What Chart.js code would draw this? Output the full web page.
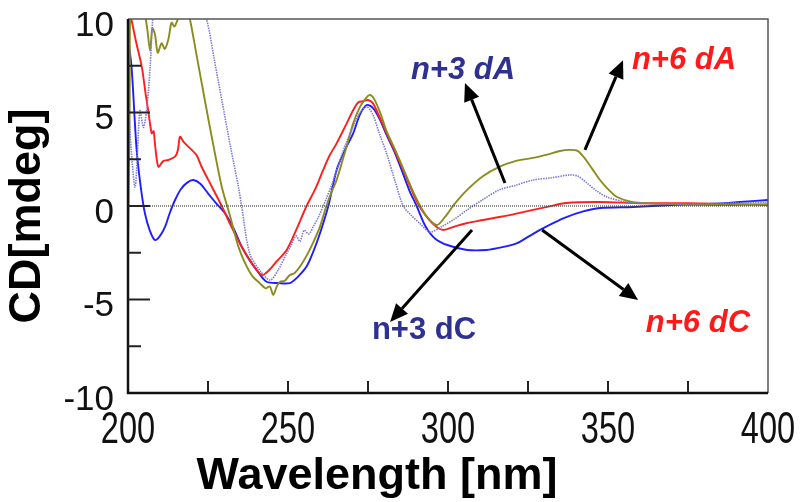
<!DOCTYPE html>
<html lang="en">
<head>
<meta charset="UTF-8">
<title>CD spectra</title>
<script src="https://cdn.jsdelivr.net/npm/chart.js"></script>
<style>
  body { margin: 0; background: #fff; }
  #wrap { width: 800px; height: 502px; }
</style>
</head>
<body>
<div id="wrap"><canvas id="cdChart" width="800" height="502"></canvas></div>
<script>
// wavelength (nm) / CD (mdeg) pairs, one pair of arrays per trace
const blueNm = [200, 201.1, 202.7, 204, 205.3, 206.8, 208.4, 210, 211.6, 213, 214.7, 216.5, 218.5, 220.4, 222.5, 225, 227.5, 230.3, 233, 235.5, 238, 240.5, 243.3, 247, 250.6, 253, 255.8, 258, 260, 262.6, 265.2, 267.8, 270.4, 272.5, 274.6, 276.5, 278.5, 280.8, 283.5, 286, 288, 290.2, 293, 296, 300, 306, 312, 317, 321.6, 325, 328.75, 333, 337, 342, 347.5, 357.8, 370, 380, 390, 400];
const blueCd = [9.0, 7.45, 3.0, 1.0, -0.4, -1.3, -1.82, -1.6, -1.1, -0.4, 0.32, 0.9, 1.25, 1.39, 1.2, 0.68, 0.15, -0.39, -1.2, -2.17, -2.9, -3.5, -4.05, -4.12, -4.12, -3.8, -3.24, -2.4, -1.46, 0, 1.93, 3.0, 3.9, 4.9, 5.4, 5.25, 4.7, 3.8, 2.8, 1.7, 0.8, 0, -1.1, -1.75, -2.1, -2.35, -2.35, -2.2, -1.98, -1.65, -1.28, -0.9, -0.59, -0.3, -0.11, -0.05, 0.05, 0.1, 0.2, 0.32];

const redNm = [200, 201.1, 202.5, 204.3, 205.5, 206.3, 207.4, 208, 208.5, 209.5, 211, 212.6, 214.7, 215.6, 216.25, 217.5, 219.9, 221.5, 223, 226.2, 229.3, 232, 235.5, 238.5, 241.8, 244, 246.5, 249.6, 252.5, 255.8, 258.5, 261, 263, 265.2, 268, 270.4, 272, 273.5, 275, 276.5, 278.5, 280.8, 283.5, 286, 288.5, 291, 295, 298.4, 302, 306, 311, 316, 321, 326.6, 331, 337, 347.5, 360, 375, 390, 400];
const redCd = [10.8, 9.95, 8.8, 7.45, 6.0, 5.13, 3.89, 4.0, 3.2, 2.1, 2.4, 2.46, 2.64, 3.0, 3.7, 3.4, 3.0, 2.7, 2.1, 1.03, 0, -1.0, -2.17, -3.0, -3.69, -3.45, -2.95, -2.35, -1.3, 0, 0.9, 1.93, 2.7, 3.35, 4.3, 5.13, 5.55, 5.6, 5.67, 5.5, 4.8, 3.9, 2.9, 1.93, 0.9, 0, -0.9, -1.28, -1.1, -0.91, -0.75, -0.59, -0.42, -0.21, -0.05, 0.16, 0.21, 0.15, 0.15, 0.1, 0.05];

const oliveNm = [200, 200.5, 201, 203, 205, 206, 206.9, 207.6, 208.4, 209.3, 210.5, 211.5, 212.6, 213.6, 214.5, 215.6, 217, 218.5, 219.4, 221.5, 224, 226.5, 229.3, 232, 234.5, 237, 239, 241, 243, 244.3, 245.4, 246.5, 247.5, 249, 250.5, 252, 253.75, 256, 258, 260, 262, 263.5, 265.2, 268, 270.4, 272.5, 274.5, 275.6, 277, 279, 280.8, 283.5, 286, 288.5, 291, 293.5, 296.5, 299, 302, 306, 311, 316, 321, 326.6, 331, 335, 338, 340.5, 342.5, 345, 347.5, 350, 352.8, 357.8, 370, 385, 400];
const oliveCd = [-2.2, 5, 12, 11.5, 10.5, 9.5, 8.3, 9.5, 9.2, 8.2, 8.7, 8.4, 8.9, 9.8, 9.6, 10.0, 10.6, 10.4, 9.95, 8.0, 5.67, 3.4, 1.03, -0.6, -2.17, -3.2, -3.78, -4.1, -4.4, -4.3, -4.76, -4.3, -4.05, -4.0, -3.7, -3.6, -3.24, -2.6, -1.9, -1.1, 0, 0.7, 1.39, 3.0, 4.43, 5.3, 5.8, 5.94, 5.7, 4.9, 4.0, 3.0, 2.0, 1.0, 0.1, -0.6, -1.02, -0.6, 0.1, 0.86, 1.6, 2.09, 2.4, 2.57, 2.75, 2.94, 3.0, 2.95, 2.6, 2.0, 1.39, 0.9, 0.48, 0.21, 0.1, 0.05, 0.1];

const lilacNm = [200, 201, 202.2, 203, 203.75, 204.8, 205.8, 206.9, 207.8, 208.5, 222, 224.6, 227, 229.3, 232, 234.5, 235.5, 238, 241, 244.4, 247, 249.6, 251, 252.5, 253.75, 255, 256.5, 257.9, 259.5, 261, 262, 264, 266, 268, 270.4, 272.5, 274.6, 276.5, 278.5, 280.8, 283.5, 286, 288.5, 291, 294.4, 298, 302, 306, 311, 316, 321, 326.6, 332, 338, 340.5, 343.4, 346.5, 349.7, 356, 370, 385, 400];
const lilacCd = [6, 3, 1.0, 3.0, 5.1, 4.2, 5.1, 7.4, 10.2, 11, 11, 9.95, 7.8, 5.67, 3.2, 1.03, 0, -2.53, -3.4, -3.96, -3.4, -2.53, -2.1, -1.6, -1.9, -1.3, -1.5, -1.1, -0.6, 0, 0.4, 1.3, 2.3, 3.3, 4.24, 5.0, 5.3, 4.9, 3.9, 2.82, 1.3, 0, -0.5, -0.9, -1.39, -1.1, -0.7, -0.21, 0.35, 0.86, 1.1, 1.39, 1.5, 1.66, 1.6, 1.23, 0.8, 0.48, 0.21, 0.1, 0.15, 0.2];

const xTickValues = [200, 250, 300, 350, 400];
const yTickValues = [-10, -5, 0, 5, 10];
const xInnerTicks = [225, 250, 275, 300, 325, 350, 375];
const yMinorTicks = [-7.5, -2.5, 2.5, 7.5];
const yMajorTicks = [-5, 0, 5];

const pts = (xs, ys) => xs.map((x, i) => ({ x: x, y: ys[i] }));

// label + arrow, in data units
const notes = [
  { text: 'n+3 dA', color: '#2e3192', italic: true,  at: [304.7, 7.27],  from: [317.8, 1.23],  to: [305.3, 6.58] },
  { text: 'n+6 dA', color: '#ff1a1a', italic: true,  at: [373.75, 7.8],  from: [342.8, 3.0],   to: [354.7, 7.8] },
  { text: 'n+3 dC', color: '#2e3192', italic: false, at: [292.5, -6.63], from: [307.5, -1.28], to: [281.9, -6.2] },
  { text: 'n+6 dC', color: '#ff1a1a', italic: true,  at: [378.1, -6.26], from: [329.4, -1.28], to: [359.4, -5.03] }
];

const frame = {
  id: 'frame',
  afterDatasetsDraw(chart) {
    const { ctx, chartArea: a, scales: { x, y } } = chart;
    ctx.save();
    ctx.strokeStyle = '#555';
    ctx.lineWidth = 1.5;
    ctx.beginPath();
    ctx.moveTo(a.left, a.top); ctx.lineTo(a.right, a.top); ctx.lineTo(a.right, a.bottom);
    ctx.stroke();
    ctx.strokeStyle = '#111';
    ctx.lineWidth = 2.5;
    ctx.beginPath();
    ctx.moveTo(a.left, a.top); ctx.lineTo(a.left, a.bottom); ctx.lineTo(a.right, a.bottom);
    ctx.stroke();
    ctx.lineWidth = 2;
    ctx.strokeStyle = '#222';
    ctx.beginPath();
    xInnerTicks.forEach(v => {
      const px = x.getPixelForValue(v);
      ctx.moveTo(px, a.bottom); ctx.lineTo(px, a.bottom - 12);
    });
    yMinorTicks.forEach(v => {
      const py = y.getPixelForValue(v);
      ctx.moveTo(a.left, py); ctx.lineTo(a.left + 13, py);
    });
    yMajorTicks.forEach(v => {
      const py = y.getPixelForValue(v);
      ctx.moveTo(a.left, py); ctx.lineTo(a.left + 22, py);
    });
    ctx.stroke();

    // x tick labels, condensed like the original
    ctx.fillStyle = '#111';
    ctx.font = '44px "Liberation Sans", Arial, sans-serif';
    ctx.textAlign = 'center';
    ctx.textBaseline = 'top';
    xTickValues.forEach(v => {
      ctx.save();
      ctx.translate(x.getPixelForValue(v), a.bottom + 16);
      ctx.scale(0.74, 1);
      ctx.fillText(String(v), 0, 0);
      ctx.restore();
    });

    // axis titles
    ctx.fillStyle = '#000';
    ctx.font = 'bold 45px "Liberation Sans", Arial, sans-serif';
    ctx.textAlign = 'center';
    ctx.textBaseline = 'middle';
    ctx.fillText('Wavelength [nm]', 377, 477);
    ctx.translate(28, 216);
    ctx.rotate(-Math.PI / 2);
    ctx.fillText('CD[mdeg]', 0, 0);
    ctx.restore();

    // annotations
    ctx.save();
    notes.forEach(n => {
      const x0 = x.getPixelForValue(n.from[0]), y0 = y.getPixelForValue(n.from[1]);
      const x1 = x.getPixelForValue(n.to[0]), y1 = y.getPixelForValue(n.to[1]);
      const ang = Math.atan2(y1 - y0, x1 - x0);
      const head = 18, half = 8;
      const bx = x1 - head * Math.cos(ang), by = y1 - head * Math.sin(ang);
      ctx.strokeStyle = '#000';
      ctx.fillStyle = '#000';
      ctx.lineWidth = 3;
      ctx.beginPath();
      ctx.moveTo(x0, y0); ctx.lineTo(bx, by);
      ctx.stroke();
      ctx.beginPath();
      ctx.moveTo(x1, y1);
      ctx.lineTo(bx + half * Math.sin(ang), by - half * Math.cos(ang));
      ctx.lineTo(bx - half * Math.sin(ang), by + half * Math.cos(ang));
      ctx.closePath();
      ctx.fill();

      ctx.font = (n.italic ? 'italic ' : '') + 'bold 31px "Liberation Sans", Arial, sans-serif';
      ctx.fillStyle = n.color;
      ctx.textAlign = 'center';
      ctx.textBaseline = 'middle';
      ctx.fillText(n.text, x.getPixelForValue(n.at[0]), y.getPixelForValue(n.at[1]));
    });
    ctx.restore();
  }
};

const line = (data, color, extra) => Object.assign({
  data: data,
  borderColor: color,
  borderWidth: 1.9,
  pointRadius: 0,
  tension: 0.3,
  fill: false
}, extra || {});

new Chart(document.getElementById('cdChart'), {
  type: 'line',
  data: {
    datasets: [
      line([{ x: 200, y: 0 }, { x: 400, y: 0 }], '#444', { borderWidth: 1.2, borderDash: [1, 1], tension: 0 }),
      line(pts(lilacNm, lilacCd), '#7c7cd0', { borderWidth: 1.6, borderDash: [1.5, 1] }),
      line(pts(oliveNm, oliveCd), '#8c8c1e'),
      line(pts(redNm, redCd), '#ff1e1e'),
      line(pts(blueNm, blueCd), '#1e1eff')
    ]
  },
  options: {
    responsive: false,
    animation: false,
    layout: { padding: { top: 19, right: 32, left: 0, bottom: 0 } },
    plugins: { legend: { display: false }, tooltip: { enabled: false } },
    scales: {
      x: {
        type: 'linear',
        min: 200,
        max: 400,
        afterBuildTicks: s => { s.ticks = xTickValues.map(v => ({ value: v })); },
        afterFit: s => { s.height = 109; s.paddingLeft = 0; s.paddingRight = 0; },
        grid: { display: false, drawTicks: false },
        border: { display: false },
        ticks: { display: false }
      },
      y: {
        min: -10,
        max: 10,
        afterBuildTicks: s => { s.ticks = yTickValues.map(v => ({ value: v })); },
        afterFit: s => { s.width = 128; s.paddingTop = 0; s.paddingBottom = 0; },
        grid: { display: false, drawTicks: false },
        border: { display: false },
        ticks: {
          padding: 14,
          labelOffset: 7,
          color: '#111',
          font: { family: '"Liberation Sans", Arial', size: 35 }
        }
      }
    }
  },
  plugins: [frame]
});
</script>
</body>
</html>
